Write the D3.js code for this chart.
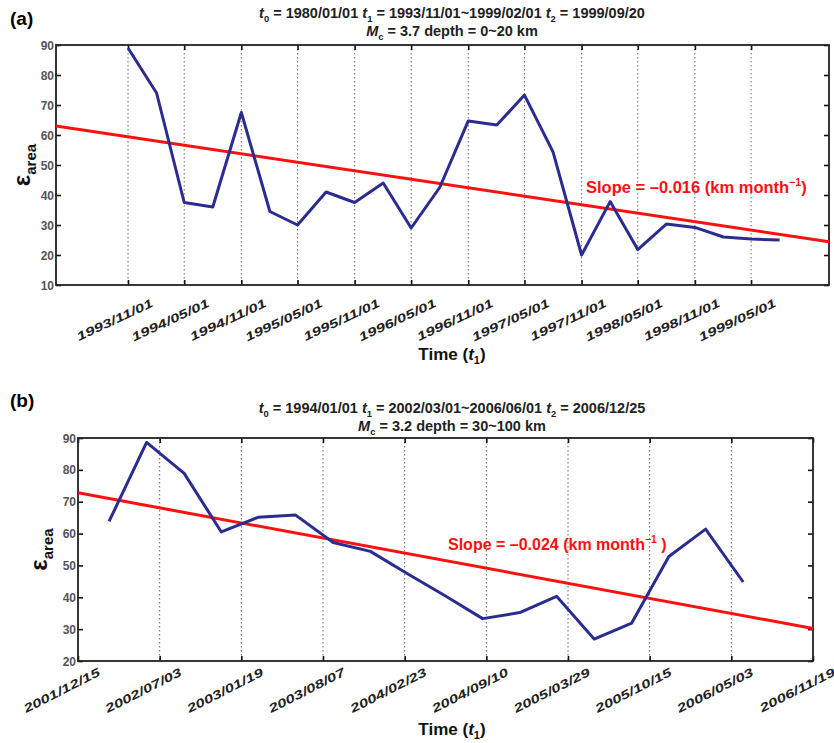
<!DOCTYPE html>
<html>
<head>
<meta charset="utf-8">
<script src="https://cdn.jsdelivr.net/npm/d3@7"></script>
<style>
  body { margin: 0; background: #fff; }
  text { font-family: "Liberation Sans", Arial, sans-serif; }
</style>
</head>
<body>
<svg id="chart" width="834" height="743"></svg>
<script>
// ---- panel (a) data ----
var datesA = ["1993/11/01", "1994/02/01", "1994/05/01", "1994/08/01", "1994/11/01", "1995/02/01",
  "1995/05/01", "1995/08/01", "1995/11/01", "1996/02/01", "1996/05/01", "1996/08/01",
  "1996/11/01", "1997/02/01", "1997/05/01", "1997/08/01", "1997/11/01", "1998/02/01",
  "1998/05/01", "1998/08/01", "1998/11/01", "1999/02/01", "1999/05/01", "1999/08/01"];
var valuesA = [89, 74, 37.5, 36, 67.5, 34.5, 30, 41, 37.5, 44, 29, 42.5,
  64.7, 63.3, 73.3, 54.4, 20, 37.8, 21.8, 30.3, 29.2, 26, 25.3, 25];
var ticksA = ["1993/11/01", "1994/05/01", "1994/11/01", "1995/05/01", "1995/11/01", "1996/05/01",
  "1996/11/01", "1997/05/01", "1997/11/01", "1998/05/01", "1998/11/01", "1999/05/01"];
var domainA = ["1993/03/14", "2000/01/07"];
var trendA = [63, 24.4];           // red fit line at the two domain ends
var yTicksA = [10, 20, 30, 40, 50, 60, 70, 80, 90];

// ---- panel (b) data ----
var datesB = ["2002/03/01", "2002/06/01", "2002/09/01", "2002/12/01", "2003/03/01", "2003/06/01",
  "2003/09/01", "2003/12/01", "2004/03/01", "2004/06/01", "2004/09/01", "2004/12/01",
  "2005/03/01", "2005/06/01", "2005/09/01", "2005/12/01", "2006/03/01", "2006/06/01"];
var valuesB = [63.8, 88.6, 78.9, 60.5, 65.1, 65.8, 57.2, 54.4, 47.4, 40.5, 33.3, 35.2,
  40.3, 26.9, 31.9, 52.8, 61.4, 44.8];
var ticksB = ["2001/12/15", "2002/07/03", "2003/01/19", "2003/08/07", "2004/02/23",
  "2004/09/10", "2005/03/29", "2005/10/15", "2006/05/03", "2006/11/19"];
var domainB = ["2001/12/15", "2006/11/19"];
var trendB = [72.8, 30.2];
var yTicksB = [20, 30, 40, 50, 60, 70, 80, 90];

var parse = d3.timeParse("%Y/%m/%d");
var svg = d3.select("#chart");

// parts: [text, kind] kind: "" | "i" | "sub" | "sup"
function rich(sel, parts) {
  var shift = 0;
  parts.forEach(function (p) {
    var t = sel.append("tspan").text(p[0]);
    var want = p[1] == "sub" ? 4 : p[1] == "sup" ? -7 : 0;
    if (want != shift) { t.attr("dy", want - shift); shift = want; }
    if (p[1] == "sub" || p[1] == "sup") t.attr("font-size", "65%");
    if (p[1] == "i") t.attr("font-style", "italic");
  });
}

function drawPanel(c) {
  var g = svg.append("g");
  var x = d3.scaleTime().domain(c.domain.map(parse)).range([c.left, c.right]);
  var y = d3.scaleLinear().domain([c.yTicks[0], c.yTicks[c.yTicks.length - 1]]).range([c.bottom, c.top]);

  // dotted grid at interior ticks
  g.selectAll(".grid")
    .data(c.ticks.map(parse).filter(function (d) { return x(d) > c.left + 1 && x(d) < c.right - 1; }))
    .enter().append("line")
    .attr("x1", function (d) { return x(d); })
    .attr("x2", function (d) { return x(d); })
    .attr("y1", c.top).attr("y2", c.bottom)
    .attr("stroke", "#666").attr("stroke-width", 1)
    .attr("stroke-dasharray", "1.5,2.5");

  // axes with inward ticks on all four sides
  g.append("g").attr("transform", "translate(0," + c.bottom + ")")
    .call(d3.axisTop(x).tickValues(c.ticks.map(parse)).tickSize(5).tickFormat(""));
  g.append("g").attr("transform", "translate(0," + c.top + ")")
    .call(d3.axisBottom(x).tickValues(c.ticks.map(parse)).tickSize(5).tickFormat(""));
  g.append("g").attr("transform", "translate(" + c.left + ",0)")
    .call(d3.axisRight(y).tickValues(c.yTicks).tickSize(5).tickFormat(""));
  g.append("g").attr("transform", "translate(" + c.right + ",0)")
    .call(d3.axisLeft(y).tickValues(c.yTicks).tickSize(5).tickFormat(""));
  g.selectAll(".domain").remove();
  g.selectAll(".tick line").attr("stroke", "#111").attr("stroke-width", 1.6);

  g.append("rect")
    .attr("x", c.left).attr("y", c.top)
    .attr("width", c.right - c.left).attr("height", c.bottom - c.top)
    .attr("fill", "none").attr("stroke", "#222").attr("stroke-width", 1.8);

  // y tick labels
  g.selectAll(".ylab").data(c.yTicks).enter().append("text")
    .attr("x", c.left - 2).attr("y", function (d) { return y(d) + 4.5; })
    .attr("text-anchor", "end").attr("font-size", 12).attr("font-weight", "bold")
    .attr("fill", "#555").text(function (d) { return d; });

  // rotated x tick labels
  g.selectAll(".xlab").data(c.ticks).enter().append("text")
    .attr("transform", function (d) {
      return "translate(" + (x(parse(d)) + c.labDx) + "," + (c.bottom + c.labDy) + ") rotate(" + (-c.labAngle) + ") scale(1.4,1)";
    })
    .attr("text-anchor", "end").attr("font-size", 12).attr("font-weight", "bold")
    .attr("font-style", "italic").attr("fill", "#222").text(function (d) { return d; });

  // fit line
  g.append("line")
    .attr("x1", x(parse(c.domain[0]))).attr("y1", y(c.trend[0]))
    .attr("x2", x(parse(c.domain[1]))).attr("y2", y(c.trend[1]))
    .attr("stroke", "#ff1010").attr("stroke-width", 3);

  // data line
  var line = d3.line()
    .x(function (d, i) { return x(parse(c.dates[i])); })
    .y(function (d) { return y(d); });
  g.append("path").datum(c.values)
    .attr("d", line).attr("fill", "none")
    .attr("stroke", "#2a2d8f").attr("stroke-width", 3).attr("stroke-linejoin", "round");

  // slope note
  var s = g.append("text").attr("x", c.slopeX).attr("y", c.slopeY)
    .attr("font-size", c.slopeSize).attr("font-weight", "bold").attr("fill", "#ff1010");
  rich(s, c.slopeParts);

  // titles
  var t1 = g.append("text").attr("x", c.titleX).attr("y", c.titleY)
    .attr("text-anchor", "middle").attr("font-size", 14.5).attr("font-weight", "bold").attr("fill", "#222");
  rich(t1, c.title1);
  var t2 = g.append("text").attr("x", c.titleX).attr("y", c.titleY + 18)
    .attr("text-anchor", "middle").attr("font-size", 14.5).attr("font-weight", "bold").attr("fill", "#222");
  rich(t2, c.title2);

  g.append("text").attr("x", 10).attr("y", c.panelY)
    .attr("font-size", 19).attr("font-weight", "bold").text(c.panel);

  // axis titles
  var xt = g.append("text").attr("x", c.titleX).attr("y", c.xTitleY)
    .attr("text-anchor", "middle").attr("font-size", 17).attr("font-weight", "bold").attr("fill", "#111");
  rich(xt, [["Time (", ""], ["t", "i"], ["1", "sub"], [")", ""]]);

  var yt = g.append("text")
    .attr("transform", "translate(" + c.yTitleX + "," + ((c.top + c.bottom) / 2) + ") rotate(-90)")
    .attr("text-anchor", "middle").attr("font-weight", "bold").attr("fill", "#111");
  yt.append("tspan").attr("font-size", 24).text("ε");
  yt.append("tspan").attr("font-size", 15).attr("dy", 6).text("area");
}

drawPanel({
  left: 56, right: 829, top: 45, bottom: 285,
  dates: datesA, values: valuesA, ticks: ticksA, domain: domainA, trend: trendA, yTicks: yTicksA,
  labDx: 26, labDy: 21, labAngle: 25,
  slopeX: 586, slopeY: 193, slopeSize: 16.5,
  slopeParts: [["Slope = \u20130.016 (km month", ""], ["\u22121", "sup"], [")", ""]],
  titleX: 452, titleY: 18,
  title1: [["t", "i"], ["0", "sub"], [" = 1980/01/01 ", ""], ["t", "i"], ["1", "sub"],
    [" = 1993/11/01~1999/02/01 ", ""], ["t", "i"], ["2", "sub"], [" = 1999/09/20", ""]],
  title2: [["M", "i"], ["c", "sub"], [" = 3.7 depth = 0~20 km", ""]],
  panel: "(a)", panelY: 25, xTitleY: 360, yTitleX: 30
});

drawPanel({
  left: 78, right: 813, top: 438, bottom: 661,
  dates: datesB, values: valuesB, ticks: ticksB, domain: domainB, trend: trendB, yTicks: yTicksB,
  labDx: 23, labDy: 14, labAngle: 27,
  slopeX: 448, slopeY: 550, slopeSize: 16,
  slopeParts: [["Slope = \u20130.024 (km month", ""], ["\u22121", "sup"], [" )", ""]],
  titleX: 452, titleY: 413,
  title1: [["t", "i"], ["0", "sub"], [" = 1994/01/01 ", ""], ["t", "i"], ["1", "sub"],
    [" = 2002/03/01~2006/06/01 ", ""], ["t", "i"], ["2", "sub"], [" = 2006/12/25", ""]],
  title2: [["M", "i"], ["c", "sub"], [" = 3.2 depth = 30~100 km", ""]],
  panel: "(b)", panelY: 407, xTitleY: 735, yTitleX: 47
});
</script>
</body>
</html>
